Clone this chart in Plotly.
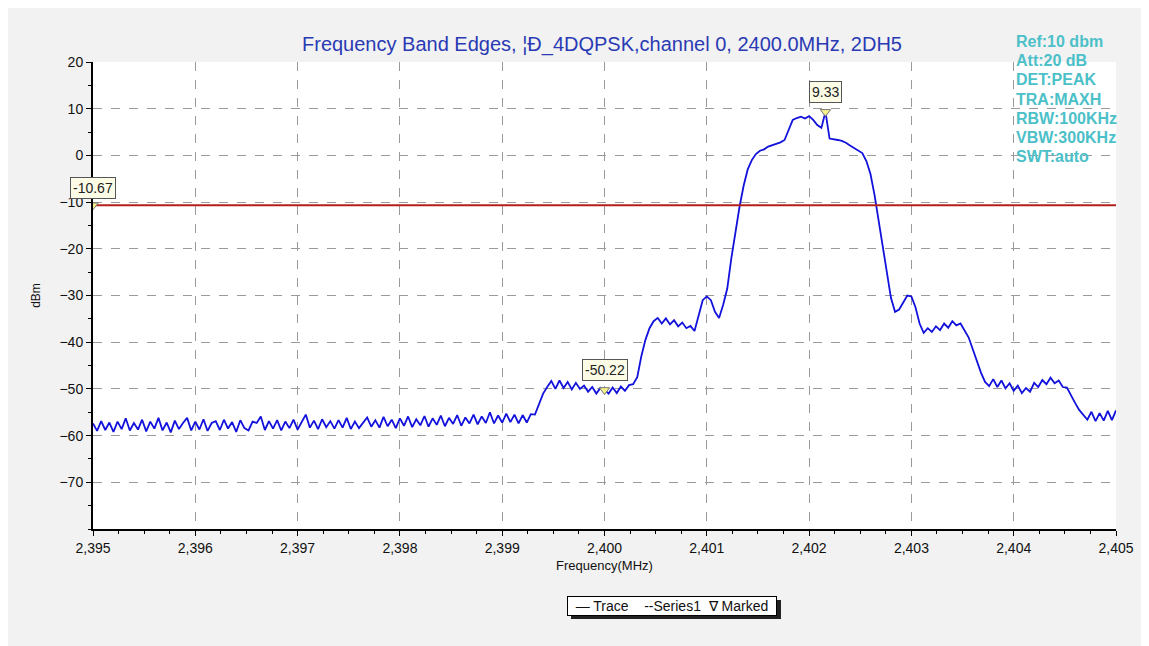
import plotly.graph_objects as go

# ---------------- data ----------------
FREQ_START = 2395.0
FREQ_STEP = 0.04  # MHz between trace samples

trace_dbm = [
    # 2395.00 - 2399.28 noise floor
    -57.4, -59.0, -56.9, -58.8, -57.2, -59.2, -57.0, -58.6, -56.3, -58.9,
    -57.3, -58.7, -56.6, -59.1, -57.0, -58.5, -56.2, -58.9, -57.2, -59.3,
    -56.8, -58.6, -57.3, -56.2, -58.9, -57.0, -58.7, -56.5, -59.0, -57.3,
    -56.9, -58.8, -56.6, -58.5, -57.1, -59.2, -56.7, -58.4, -58.9, -57.0,
    -57.3, -55.9, -58.8, -56.9, -58.5, -56.7, -58.9, -57.0, -58.4, -56.6,
    -58.7, -57.0, -55.5, -58.3, -56.8, -58.6, -56.5, -58.2, -56.9, -58.5,
    -56.7, -58.3, -56.2, -58.6, -57.0, -58.4, -57.3, -56.1, -58.1, -56.7,
    -58.3, -56.0, -58.0, -56.6, -58.4, -56.3, -57.9, -55.9, -58.2, -56.5,
    -57.8, -55.8, -58.1, -56.3, -57.7, -55.7, -58.0, -56.2, -57.5, -55.6,
    -57.9, -56.1, -57.4, -55.5, -57.6, -55.9, -57.3, -55.0, -57.4, -55.7,
    -57.2, -55.3, -57.1, -55.5, -57.4, -55.6, -57.2, -55.4,
    # 2399.32 - 2400.28 first step
    -55.5, -53.2, -51.0, -49.6, -48.3, -50.0, -48.2, -49.8, -48.5, -50.1,
    -48.7, -50.0, -49.3, -50.6, -49.6, -51.0, -49.8, -50.22, -51.0, -49.7,
    -50.9, -49.5, -50.4, -49.2, -49.0,
    # 2400.32 - 2401.20 second step and shoulder
    -47.5, -43.0, -39.5, -37.0, -35.5, -34.8, -36.0, -34.9, -36.2, -35.3,
    -36.6, -35.8, -37.0, -36.5, -37.6, -34.0, -31.0, -30.2, -31.0, -33.5,
    -34.8, -32.0, -28.5,
    # 2401.24 - 2402.76 main lobe
    -22.0, -16.0, -11.0, -6.5, -3.0, -1.0, 0.3, 1.0, 1.3, 1.9,
    2.2, 2.4, 2.8, 3.3, 5.5, 7.6, 8.0, 8.3, 7.9, 8.4,
    7.6, 6.5, 5.9, 9.33, 3.6, 3.5, 3.3, 3.1, 2.7, 2.1,
    1.6, 1.0, 0.5, -1.2, -4.0, -8.5, -14.0, -20.0, -26.0,
    # 2402.80 - 2405.00 upper skirt
    -30.5, -33.5, -33.0, -31.5, -30.0, -30.2, -32.5, -36.0, -38.0, -37.0,
    -37.8, -36.6, -37.4, -36.0, -36.9, -35.5, -36.4, -36.0, -37.5, -39.0,
    -41.5, -44.0, -46.5, -48.5, -49.4, -47.9, -49.6, -48.2, -49.9, -48.8,
    -50.4, -49.3, -50.9, -49.8, -50.6, -48.7, -49.6, -48.1, -49.0, -47.6,
    -48.8, -48.2, -49.6, -49.7, -51.5, -53.0, -54.5, -55.5, -56.6, -54.9,
    -56.9, -55.2, -56.8, -54.7, -56.7, -54.6,
]
trace_freq = [round(FREQ_START + FREQ_STEP * i, 3) for i in range(len(trace_dbm))]

limit_level = -10.67            # Series1 horizontal line
limit_freq = [2395.0, 2405.0]

marked_freq = [2395.0, 2400.0, 2402.16]
marked_dbm = [-10.67, -50.22, 9.33]
marked_text = ["-10.67", "-50.22", "9.33"]
marked_label_shift = [17, 20, 20]

x_ticks = [2395, 2396, 2397, 2398, 2399, 2400, 2401, 2402, 2403, 2404, 2405]
y_ticks = [20, 10, 0, -10, -20, -30, -40, -50, -60, -70]

title_text = "Frequency Band Edges, ¦Ð_4DQPSK,channel 0, 2400.0MHz, 2DH5"
info_lines = ["Ref:10 dbm", "Att:20 dB", "DET:PEAK", "TRA:MAXH",
              "RBW:100KHz", "VBW:300KHz", "SWT:auto"]

FONT = "Liberation Sans, Arial, sans-serif"

# plot-area geometry (page pixels) used to place paper-referenced items
PX0, PX1, PY0, PY1 = 93, 1116, 62, 529
PW, PH = PX1 - PX0, PY1 - PY0


def px(xp):
    return (xp - PX0) / PW


def py(yp):
    return (PY1 - yp) / PH


# ---------------- figure ----------------
fig = go.Figure()

fig.add_trace(go.Scatter(
    x=trace_freq, y=trace_dbm, mode="lines", name="Trace",
    line=dict(color="#1212dc", width=1.8), hoverinfo="x+y"))

fig.add_trace(go.Scatter(
    x=limit_freq, y=[limit_level, limit_level], mode="lines", name="Series1",
    line=dict(color="#b3201c", width=2.2)))

fig.add_trace(go.Scatter(
    x=marked_freq, y=marked_dbm, mode="markers", name="Marked",
    marker=dict(symbol="triangle-down", size=9, color="#f4f08a",
                line=dict(color="#777777", width=1))))

# marker value boxes
for fx, fy, t, s in zip(marked_freq, marked_dbm, marked_text, marked_label_shift):
    fig.add_annotation(
        x=fx, y=fy, xref="x", yref="y", text=t, showarrow=False,
        yshift=s, font=dict(family=FONT, size=14, color="#222222"),
        bgcolor="#fbfbe6", bordercolor="#555555", borderwidth=1, borderpad=2)

# right-hand instrument settings
for i, line in enumerate(info_lines):
    fig.add_annotation(
        x=px(1014), y=py(42 + 19 * i), xref="paper", yref="paper", text="<b>%s</b>" % line,
        showarrow=False, xanchor="left", yanchor="middle",
        font=dict(family=FONT, size=16, color="#4cc0c8"))

# the page body adds an 8px margin, so the figure is 8px smaller and margins shifted
fig.update_layout(
    width=1141, height=638,
    paper_bgcolor="#f2f2f2", plot_bgcolor="#ffffff",
    margin=dict(l=PX0 - 8, r=1149 - PX1 - 8 + 8, t=PY0 - 8, b=646 - PY1 - 8 + 8),
    showlegend=False,
    title=dict(text=title_text, x=594 / 1141, xanchor="center", y=1 - 36 / 638, yanchor="middle",
               font=dict(family=FONT, size=20, color="#2a3ab4")),
    font=dict(family=FONT, size=14, color="#111111"),
    separators=".,",
)

fig.update_xaxes(
    range=[2395, 2405], tickvals=x_ticks, tickformat=",d",
    showline=True, linecolor="#000000", linewidth=2, mirror=False,
    ticks="outside", ticklen=5, tickcolor="#000000",
    minor=dict(ticks="outside", ticklen=3, tickcolor="#000000", dtick=0.25, showgrid=False),
    showgrid=True, gridcolor="#9a9a9a", griddash="dash", gridwidth=1,
    zeroline=False,
    title=dict(text="Frequency(MHz)", font=dict(family=FONT, size=13, color="#111111"), standoff=6),
    tickfont=dict(family=FONT, size=14, color="#111111"),
)
fig.update_yaxes(
    range=[-80, 20], tickvals=y_ticks,
    showline=True, linecolor="#000000", linewidth=2, mirror=False,
    ticks="outside", ticklen=5, tickcolor="#000000",
    minor=dict(ticks="outside", ticklen=3, tickcolor="#000000", dtick=5, showgrid=False),
    showgrid=True, gridcolor="#9a9a9a", griddash="dash", gridwidth=1,
    zeroline=False,
    title=dict(text="dBm", font=dict(family=FONT, size=12, color="#111111"), standoff=16),
    tickfont=dict(family=FONT, size=14, color="#111111"),
)

# legend box (drawn as text with border and shadow, like the original)
fig.add_shape(type="rect", xref="paper", yref="paper",
              x0=px(571), x1=px(781), y0=py(619), y1=py(600),
              fillcolor="#222222", line=dict(width=0), layer="above")
fig.add_annotation(
    x=px(672), y=py(606), xref="paper", yref="paper",
    text="— Trace    -‑Series1  ∇ Marked", showarrow=False,
    xanchor="center", yanchor="middle",
    font=dict(family=FONT, size=14, color="#111111"),
    bgcolor="#ffffff", bordercolor="#000000", borderwidth=1, borderpad=1,
    width=206)

fig.write_html("out.html")
